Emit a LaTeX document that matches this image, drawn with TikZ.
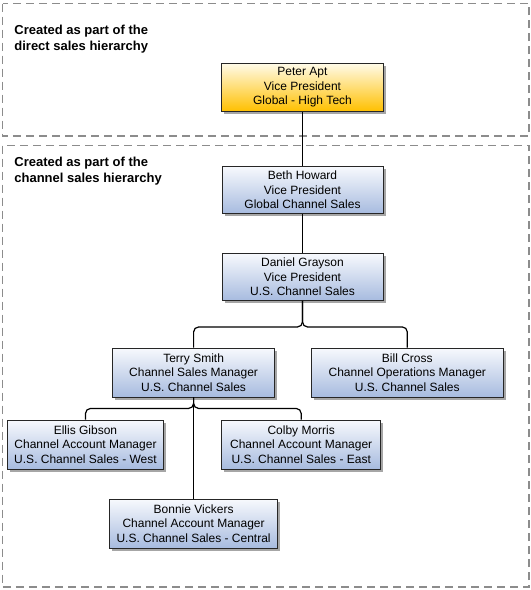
\documentclass[tikz,border=0pt]{standalone}
\usepackage{fontspec}
\setmainfont{Liberation Sans}
\usetikzlibrary{shadows}
\definecolor{dashgray}{HTML}{8C8C8C}
\definecolor{bluetop}{HTML}{F7F9FD}
\definecolor{bluebot}{HTML}{A7BBDF}
\definecolor{yeltop}{HTML}{FFFBEA}
\definecolor{yelbot}{HTML}{FFC000}
\begin{document}
\begin{tikzpicture}[x=1pt,y=-1pt,
  groupbox/.style={draw=dashgray, line width=1.1pt, dash pattern=on 8pt off 5pt},
  grouptitle/.style={anchor=base west, inner sep=0pt, align=left,
    font=\fontsize{13}{16}\selectfont\bfseries},
  person/.style={draw=black!85, line width=0.9pt, align=center,
    inner sep=0pt, font=\fontsize{12}{14.6}\selectfont,
    drop shadow={shadow xshift=2.5pt, shadow yshift=-2.5pt, opacity=0.35, fill=black},
    shading=axis, shading angle=0},
  bluebox/.style={person, top color=bluetop, bottom color=bluebot,
    minimum width=161pt, minimum height=47pt},
  yellowbox/.style={person, top color=yeltop, bottom color=yelbot,
    minimum width=162pt, minimum height=48pt},
  link/.style={draw=black, line width=1.2pt, rounded corners=5pt}
]
\useasboundingbox (0,0) rectangle (531,590);
\fill[white] (0,0) rectangle (531,590);

% group frames
\draw[groupbox] (2.5,3.5) rectangle (529,136);
\draw[groupbox] (2.5,145.5) rectangle (529,587);
\node[grouptitle] (t1) at (14.2,50.8) {Created as part of the\\direct sales hierarchy};
\node[grouptitle] (t2) at (14.2,182.6) {Created as part of the\\channel sales hierarchy};

% people
\node[yellowbox] (peter) at (302.5,87.2) {Peter Apt\\Vice President\\Global - High Tech};
\node[bluebox] (beth) at (302.5,190) {Beth Howard\\Vice President\\Global Channel Sales};
\node[bluebox] (daniel) at (302.5,277) {Daniel Grayson\\Vice President\\U.S. Channel Sales};
\node[bluebox, minimum width=161.5pt, minimum height=49pt] (terry) at (193.6,372.5) {Terry Smith\\Channel Sales Manager\\U.S. Channel Sales};
\node[bluebox, minimum width=192.5pt, minimum height=49pt] (bill) at (407.3,372.5) {Bill Cross\\Channel Operations Manager\\U.S. Channel Sales};
\node[bluebox, minimum width=156pt, minimum height=49pt] (ellis) at (85.5,444.5) {Ellis Gibson\\Channel Account Manager\\U.S. Channel Sales - West};
\node[bluebox, minimum width=159pt, minimum height=49pt] (colby) at (301.2,444.5) {Colby Morris\\Channel Account Manager\\U.S. Channel Sales - East};
\node[bluebox, minimum width=168pt, minimum height=49pt] (bonnie) at (193.6,523.6) {Bonnie Vickers\\Channel Account Manager\\U.S. Channel Sales - Central};

% connectors
\draw[link] (peter.south) -- (beth.north);
\draw[link] (beth.south) -- (daniel.north);
\draw[link] (daniel.south) -- ++(0,26) -| (terry.north);
\draw[link] (daniel.south) -- ++(0,26) -| (bill.north);
\draw[link] (terry.south) -- ++(0,11) -| (ellis.north);
\draw[link] (terry.south) -- ++(0,11) -| (colby.north);
\draw[link] (terry.south) -- (bonnie.north);
\end{tikzpicture}
\end{document}
